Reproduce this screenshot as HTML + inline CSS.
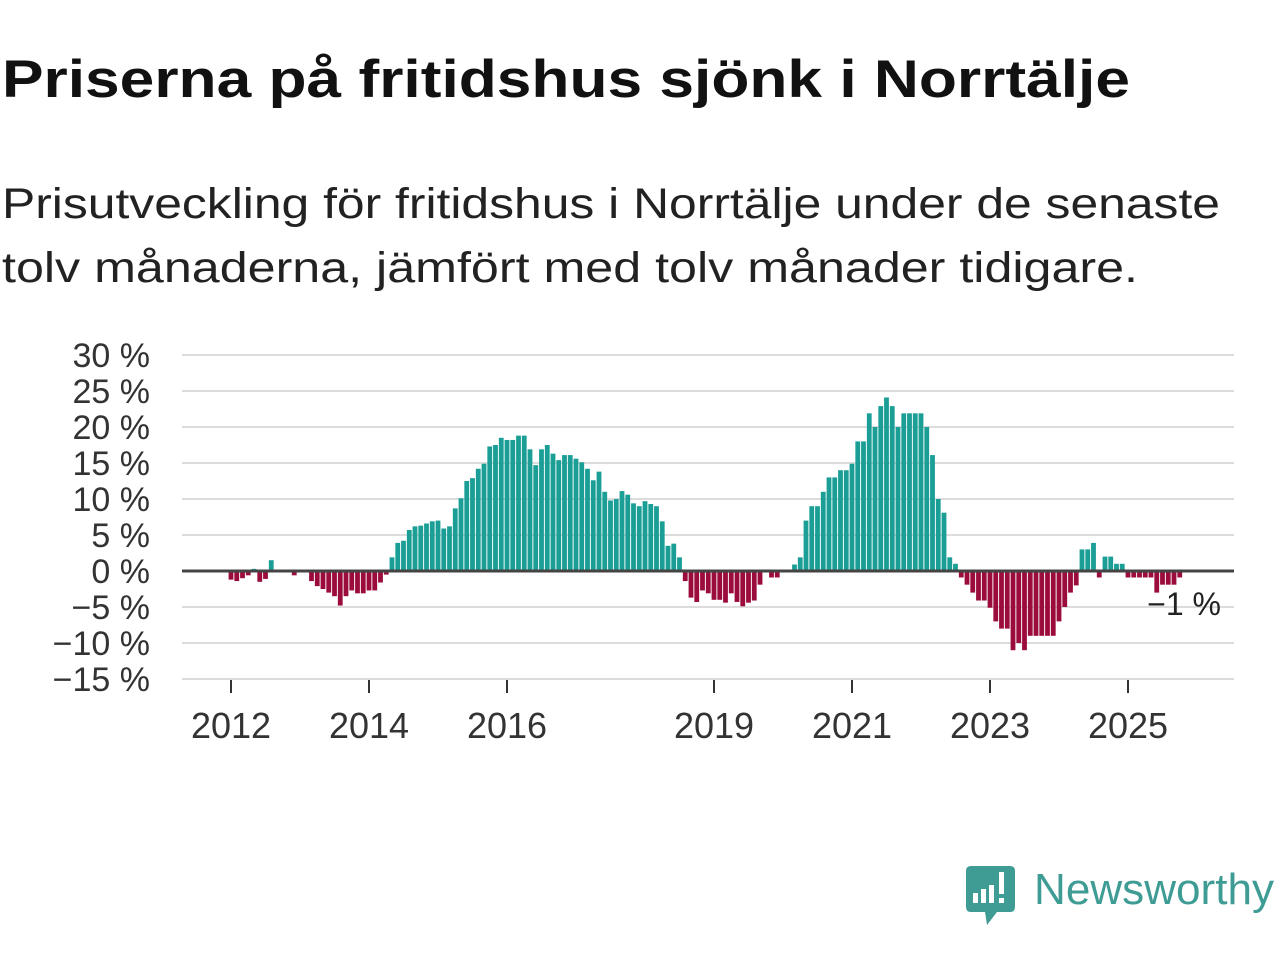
<!DOCTYPE html>
<html><head><meta charset="utf-8"><style>
html,body{margin:0;padding:0;background:#fff;}
svg{display:block;font-family:"Liberation Sans",sans-serif;}
</style></head><body>
<svg id="chart" width="1280" height="960" viewBox="0 0 1280 960">
<text x="2" y="97" font-size="53" font-weight="bold" fill="#111" textLength="1128" lengthAdjust="spacingAndGlyphs">Priserna på fritidshus sjönk i Norrtälje</text>
<text x="2" y="218" font-size="43" fill="#222" textLength="1218" lengthAdjust="spacingAndGlyphs">Prisutveckling för fritidshus i Norrtälje under de senaste</text>
<text x="2" y="282" font-size="43" fill="#222" textLength="1136" lengthAdjust="spacingAndGlyphs">tolv månaderna, jämfört med tolv månader tidigare.</text>
<g id="grid"></g>
<g id="yaxis"></g>
<g id="bars"></g>
<line x1="182" x2="1234" y1="571" y2="571" stroke="#444" stroke-width="3"/>
<g id="xaxis"></g>
<text x="1221" y="615" font-size="32" fill="#222" text-anchor="end">−1 %</text>
<g>
<path d="M971 866 H1010 Q1015 866 1015 871 V907 Q1015 912 1010 912 H997 L987 925 L985 912 H971 Q966 912 966 907 V871 Q966 866 971 866 Z" fill="#3f9c95"/>
<rect x="973" y="893" width="5" height="10" fill="#fff"/>
<rect x="981" y="889" width="5" height="14" fill="#fff"/>
<rect x="989" y="885" width="5" height="18" fill="#fff"/>
<rect x="999" y="872" width="5" height="22" fill="#fff"/>
<rect x="999" y="898" width="5" height="5" fill="#fff"/>
<text x="1034" y="904" font-size="44" fill="#3f9c95" textLength="240" lengthAdjust="spacingAndGlyphs">Newsworthy</text>
</g>
</svg>
<script>
const values = [-1.2,-1.4,-1.0,-0.6,0.3,-1.5,-1.1,1.5,0,0,0,-0.6,0,0,
-1.4,-2.1,-2.5,-3.0,-3.5,-4.8,-3.5,-2.7,-3.1,-3.1,-2.7,-2.7,-1.6,-0.5,
1.9,3.9,4.2,5.7,6.2,6.3,6.6,6.9,7.0,5.9,6.2,8.7,10.1,12.5,12.9,14.2,14.9,17.3,17.5,18.5,18.2,18.2,18.8,18.8,16.9,14.7,16.9,17.5,16.3,15.4,16.1,16.1,15.6,15.1,14.2,12.6,13.8,11.0,9.8,10.0,11.1,10.6,9.4,9.0,9.7,9.3,9.0,6.9,3.5,3.8,1.9,
-1.4,-3.7,-4.3,-2.7,-3.1,-4.0,-4.0,-4.4,-3.1,-4.3,-4.9,-4.4,-4.1,-1.9,0,-0.9,-0.9,0,0,
0.9,1.9,7.0,9.0,9.0,11.0,13.0,13.0,14.0,14.0,14.9,18.0,18.0,21.9,20.0,22.9,24.1,22.9,20.0,21.9,21.9,21.9,21.9,20.0,16.1,10.0,8.1,1.9,1.0,
-0.9,-1.9,-3.0,-4.1,-4.1,-5.1,-7.0,-8.0,-8.0,-11,-10,-11,-9,-9,-9,-9,-9,-7,-5,-3,-2,
3.0,3.0,3.9,-0.9,2.0,2.0,1.0,1.0,-0.9,-0.9,-0.9,-0.9,-0.9,-3.0,-1.9,-1.9,-1.9,-0.9];
const startYear = 2012;
const yTicks = [30,25,20,15,10,5,0,-5,-10,-15];
const yTickLabels = ["30 %","25 %","20 %","15 %","10 %","5 %","0 %","−5 %","−10 %","−15 %"];
const xTickYears = [2012,2014,2016,2019,2021,2023,2025];

const NS="http://www.w3.org/2000/svg";
function yScale(v){ return 571 - v*7.2; }
function xScale(monthIndex){ return 231 + monthIndex*5.75; }
function mk(tag, attrs, parent){ const e=document.createElementNS(NS,tag); for(const k in attrs) e.setAttribute(k,attrs[k]); parent.appendChild(e); return e; }

const grid=document.getElementById('grid'), yaxis=document.getElementById('yaxis'), bars=document.getElementById('bars'), xaxis=document.getElementById('xaxis');
yTicks.forEach((t,i)=>{
  if(t!==0){
    const l=mk('line',{x1:182,x2:1234,y1:yScale(t),y2:yScale(t),stroke:'#dcdcdc','stroke-width':2},grid);
    
    
  }
  const tx=mk('text',{x:150,y:yScale(t)+12,'font-size':34,fill:'#333','text-anchor':'end'},yaxis);
  tx.textContent=yTickLabels[i];
  
  
});
values.forEach((v,i)=>{
  if(v===0) return;
  const x=xScale(i)-2.4, y0=yScale(0), y1=yScale(v);
  const r=mk('rect',{x:x,width:4.8,y:Math.min(y0,y1),height:Math.abs(y1-y0),fill:v>0?'#1a9e96':'#9b0c3c'},bars);
  
  
});
xTickYears.forEach(yr=>{
  const x=xScale((yr-startYear)*12);
  const tk=mk('line',{x1:x,x2:x,y1:680,y2:693,stroke:'#333','stroke-width':2},xaxis);
  
  
  const tx=mk('text',{x:x,y:738,'font-size':36,fill:'#333','text-anchor':'middle'},xaxis);
  tx.textContent=String(yr);
  
  
});
</script>
</body></html>
